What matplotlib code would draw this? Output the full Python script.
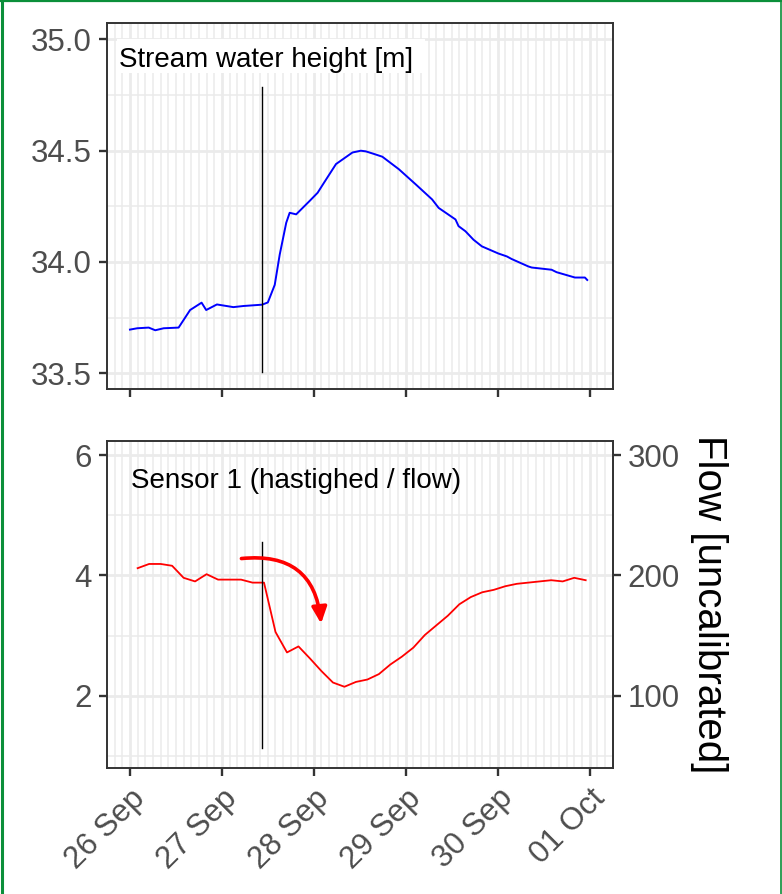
import matplotlib
matplotlib.use("Agg")
import matplotlib.pyplot as plt
import matplotlib.dates as mdates
from matplotlib.patches import FancyArrowPatch, Rectangle
from matplotlib.lines import Line2D
import numpy as np
import pandas as pd

plt.rcParams['font.family'] = ['Liberation Sans', 'DejaVu Sans']

start = pd.Timestamp("2021-09-26 00:00")

# stream water height (hours after 26 Sep 00:00, metres)
height_hours = [0, 1.9, 4.9, 6.6, 8.8, 12.7, 15.7, 18.7, 19.9, 22.7, 27.0, 29.6, 34.5, 36.0,
                37.8, 39.1, 40.8, 41.7, 43.4, 46.9, 49.0, 50.4, 53.8, 58.1, 60.3, 61.6, 63.8,
                65.9, 70.2, 74.6, 78.9, 80.6, 85.0, 85.8, 87.6, 89.7, 91.9, 96.2, 98.4, 99.7,
                104.0, 104.9, 110.1, 111.4, 116.2, 118.8, 119.4]
height_m = [33.696, 33.702, 33.705, 33.693, 33.702, 33.705, 33.784, 33.817, 33.784, 33.809,
            33.797, 33.802, 33.808, 33.818, 33.897, 34.033, 34.176, 34.221, 34.214, 34.274,
            34.311, 34.349, 34.440, 34.492, 34.500, 34.497, 34.485, 34.473, 34.417, 34.349,
            34.281, 34.243, 34.191, 34.161, 34.138, 34.100, 34.070, 34.038, 34.025, 34.013,
            33.980, 33.975, 33.965, 33.954, 33.930, 33.930, 33.919]

# sensor 1 (hastighed / flow)
sensor_hours = [2, 5, 8, 11, 14, 17, 20, 23, 26, 29, 32, 35, 38, 41, 44, 47, 50, 53, 56, 59,
                62, 65, 68, 71, 74, 77, 80, 83, 86, 89, 92, 95, 98, 101, 104, 107, 110, 113,
                116, 119]
sensor_val = [4.12, 4.19, 4.19, 4.16, 3.96, 3.90, 4.02, 3.93, 3.93, 3.93, 3.88, 3.88, 3.06,
              2.72, 2.82, 2.62, 2.41, 2.22, 2.15, 2.23, 2.27, 2.36, 2.52, 2.65, 2.80, 3.01,
              3.17, 3.33, 3.52, 3.64, 3.72, 3.76, 3.82, 3.86, 3.88, 3.90, 3.92, 3.90, 3.96,
              3.92]

event_hour = 34.5
event_top = (33.504, 34.785)
event_bottom = (1.128, 4.552)
arrow_from = (29.1, 4.28)
arrow_to = (49.9, 3.20)

def to_time(h):
    return start + pd.to_timedelta(np.asarray(h, dtype=float), unit="h")

W, H = 782, 894
fig = plt.figure(figsize=(W / 100, H / 100), dpi=100)
ax1 = fig.add_axes([107 / W, (H - 389) / H, 505.5 / W, 366 / H])
ax2 = fig.add_axes([107 / W, (H - 768) / H, 505.5 / W, 327 / H])

frame_col = "#333333"
tick_col = "#4D4D4D"
for ax in (ax1, ax2):
    ax.set_xlim(start - pd.Timedelta(hours=6), start + pd.Timedelta(hours=126))
    ax.xaxis.set_major_locator(mdates.DayLocator())
    ax.xaxis.set_minor_locator(mdates.HourLocator(byhour=range(0, 24, 2)))
    ax.xaxis.set_major_formatter(mdates.DateFormatter("%d %b"))
    ax.grid(which="major", color="#EBEBEB", lw=2.0, zorder=0)
    ax.grid(which="minor", color="#EBEBEB", lw=1.1, zorder=0)
    ax.set_axisbelow(True)
    for s in ax.spines.values():
        s.set_color(frame_col)
        s.set_linewidth(1.4)
    ax.tick_params(which="major", length=6, width=1.7, color=frame_col,
                   labelsize=22.5, labelcolor=tick_col, pad=5)
    ax.tick_params(which="minor", length=0)

# top panel
ax1.plot(to_time(height_hours), height_m, color="blue", lw=1.4, zorder=3)
ax1.plot(to_time([event_hour, event_hour]), event_top, color="black", lw=1, zorder=3)
ax1.set_ylim(33.429, 35.074)
ax1.set_yticks([33.5, 34.0, 34.5, 35.0])
ax1.set_yticks([33.75, 34.25, 34.75], minor=True)
ax1.yaxis.set_major_formatter(matplotlib.ticker.FormatStrFormatter("%.1f"))
ax1.tick_params(axis="x", labelbottom=False)
ax1.add_patch(Rectangle((0.019, 0.863), 0.61, 0.093, transform=ax1.transAxes,
                        fc="white", ec="none", zorder=2.5))
ax1.text(0.0237, 0.880, "Stream water height [m]", transform=ax1.transAxes, fontsize=20,
         color="black", ha="left", va="baseline", zorder=4)

# bottom panel
ax2.plot(to_time(sensor_hours), sensor_val, color="red", lw=1.3, zorder=3)
ax2.plot(to_time([event_hour, event_hour]), event_bottom, color="black", lw=1, zorder=3)
ax2.set_ylim(0.80, 6.233)
ax2.set_yticks([2, 4, 6])
ax2.set_yticks([1, 3, 5], minor=True)
ax2.text(0.0475, 0.856, "Sensor 1 (hastighed / flow)", transform=ax2.transAxes,
         fontsize=20, color="black", ha="left", va="baseline", zorder=4)
arr = FancyArrowPatch((mdates.date2num(to_time([arrow_from[0]])[0]), arrow_from[1]),
                      (mdates.date2num(to_time([arrow_to[0]])[0]), arrow_to[1]),
                      connectionstyle="arc3,rad=-0.5",
                      arrowstyle="-|>,head_length=0.65,head_width=0.3",
                      mutation_scale=15, color="red", lw=2.6, shrinkA=0, shrinkB=0,
                      zorder=4)
ax2.add_patch(arr)
for lab in ax2.get_xticklabels():
    lab.set_rotation(45)
    lab.set_ha("right")
    lab.set_va("top")
    lab.set_rotation_mode("anchor")

sec = ax2.secondary_yaxis("right", functions=(lambda v: v * 50, lambda v: v / 50))
sec.set_yticks([100, 200, 300])
sec.tick_params(length=6, width=1.7, color=frame_col, labelsize=22.5,
                labelcolor=tick_col, pad=5)
sec.spines["right"].set_color(frame_col)
sec.spines["right"].set_linewidth(1.4)
sec.set_ylabel("Flow [uncalibrated]", rotation=-90, fontsize=29, color="black",
               va="bottom", labelpad=7)

# green frame
green = "#0B8F3A"
fig.add_artist(Line2D([1.5 / W, 1.5 / W], [0, 1], color=green, lw=2.2, transform=fig.transFigure))
fig.add_artist(Line2D([0, 1], [1 - 1 / H, 1 - 1 / H], color=green, lw=1.6, transform=fig.transFigure))
fig.add_artist(Line2D([1 - 1 / W, 1 - 1 / W], [0, 1], color=green, lw=1.2, transform=fig.transFigure))

fig.savefig("out.png", dpi=100)
